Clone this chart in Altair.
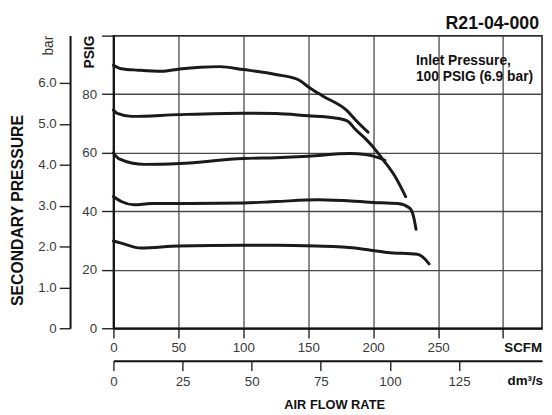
import altair as alt
import pandas as pd

# ---- data (SCFM vs secondary pressure PSIG) ----
c1_scfm = [0, 6, 19, 37, 51, 67, 82, 100, 118, 125, 142, 151, 161, 180, 187, 196]
c1_psig = [89.9, 88.7, 88.2, 87.8, 88.6, 89.2, 89.4, 88.4, 87.3, 86.7, 85.0, 82.2, 79.4, 74.3, 70.9, 67.0]

c2_scfm = [0, 3, 14, 50, 100, 125, 150, 168, 180, 186, 194, 200, 208, 217, 225]
c2_psig = [74.6, 73.4, 72.4, 73.0, 73.5, 73.4, 72.6, 72.0, 70.9, 68.1, 64.8, 61.9, 57.4, 51.8, 45.0]

c3_scfm = [0, 4, 24, 51, 100, 125, 150, 182, 194, 204, 209]
c3_psig = [59.9, 58.0, 56.0, 56.3, 58.0, 58.3, 58.8, 59.7, 59.4, 58.3, 57.4]

c4_scfm = [0, 6, 16, 29, 50, 100, 125, 158, 200, 219, 228, 231, 233]
c4_psig = [45.0, 43.3, 42.2, 42.6, 42.6, 42.8, 43.3, 43.9, 43.0, 42.6, 41.1, 38.3, 33.8]

c5_scfm = [0, 6, 21, 50, 100, 125, 156, 186, 196, 211, 234, 240, 243]
c5_psig = [29.8, 29.1, 27.4, 28.1, 28.4, 28.4, 28.1, 27.4, 26.8, 25.9, 25.3, 23.6, 22.0]

series_names = ["s1", "s2", "s3", "s4", "s5"]

scfm_ticks = [0, 50, 100, 150, 200, 250, 300]
psig_ticks = [0, 20, 40, 60, 80, 100]
bar_ticks = [0, 1, 2, 3, 4, 5, 6]
dm_ticks = [0, 25, 50, 75, 100, 125]

rows = []
for name, xs, ys in zip(series_names,
                        [c1_scfm, c2_scfm, c3_scfm, c4_scfm, c5_scfm],
                        [c1_psig, c2_psig, c3_psig, c4_psig, c5_psig]):
    for i, (x, y) in enumerate(zip(xs, ys)):
        rows.append({"series": name, "scfm": x, "psig": y, "order": i})
df = pd.DataFrame(rows)

FONT = "Liberation Sans"
LBL = "#3a3a3a"
common_axis = dict(labelFont=FONT, labelFontSize=13.5, labelColor=LBL,
                   labelFlush=False, labelOverlap=False,
                   domainColor="#111", domainWidth=2,
                   tickColor="#222", tickWidth=1.4, title=None)

lines = alt.Chart(df).mark_line(color="#1a1a1a", strokeWidth=3,
                                interpolate="monotone", strokeCap="round").encode(
    x=alt.X("scfm:Q", scale=alt.Scale(domain=[0, 330], nice=False),
            axis=alt.Axis(orient="bottom", values=scfm_ticks, grid=True,
                          gridColor="#4a4a4a", gridWidth=1.3, tickSize=10,
                          labelPadding=3,
                          labelExpr="datum.value == 300 ? '' : datum.label",
                          **common_axis)),
    y=alt.Y("psig:Q", scale=alt.Scale(domain=[0, 100], nice=False),
            axis=alt.Axis(orient="left", values=psig_ticks, grid=True,
                          gridColor="#4a4a4a", gridWidth=1.3, tickSize=12,
                          labelPadding=5,
                          labelExpr="datum.value == 100 ? '' : datum.label",
                          **common_axis)),
    detail="series:N",
    order="order:Q",
)

bar_layer = alt.Chart(pd.DataFrame({"bar": bar_ticks})).mark_point(opacity=0).encode(
    y=alt.Y("bar:Q", scale=alt.Scale(domain=[0, 7.16], nice=False),
            axis=alt.Axis(orient="left", offset=44, values=bar_ticks, grid=False,
                          tickSize=11, labelPadding=3,
                          labelExpr="datum.value == 0 ? '0' : format(datum.value, '.1f')",
                          **common_axis)),
)

dm_layer = alt.Chart(pd.DataFrame({"dm": dm_ticks})).mark_point(opacity=0).encode(
    x=alt.X("dm:Q", scale=alt.Scale(domain=[0, 155], nice=False),
            axis=alt.Axis(orient="bottom", offset=33, values=dm_ticks, grid=False,
                          tickSize=10, labelPadding=4,
                          **common_axis)),
)

one = pd.DataFrame({"k": [0]})


def label(text, x, y, size=13, bold=True, align="left", baseline="alphabetic",
          angle=0, color="#111", line_height=None):
    kw = dict(font=FONT, fontSize=size, fontWeight="bold" if bold else "normal",
              align=align, baseline=baseline, color=color)
    if angle:
        kw["angle"] = angle
    if line_height:
        kw["lineHeight"] = line_height
    return alt.Chart(one).mark_text(**kw).encode(
        x=alt.value(x), y=alt.value(y), text=alt.value(text))


texts = [
    label("R21-04-000", 432, -7, size=18, align="right"),
    label(["Inlet Pressure,", "100 PSIG (6.9 bar)"], 307, 30, size=14, line_height=16),
    label("SCFM", 435, 321, size=13.5, align="right"),
    label("dm³/s", 436, 355, size=13.5, align="right"),
    label("AIR FLOW RATE", 224.5, 379, size=13, align="center"),
    label("SECONDARY PRESSURE", -97, 177.5, size=16, align="center",
          baseline="middle", angle=270),
    label("bar", -65, 0, size=14, bold=False, align="right", baseline="middle",
          angle=270, color="#333"),
    label("PSIG", -24, 0, size=14, align="right", baseline="middle", angle=270),
]

chart = alt.layer(lines, bar_layer, dm_layer, *texts).resolve_scale(
    x="independent", y="independent"
).properties(
    width=435, height=297,
    padding={"left": 107, "top": 25, "right": 2, "bottom": 85},
    autosize=alt.AutoSizeParams(type="none"),
    background="white",
).configure_view(stroke="#111", strokeWidth=1.5)

chart.save("out.html", embed_options={"renderer": "svg", "actions": False})
